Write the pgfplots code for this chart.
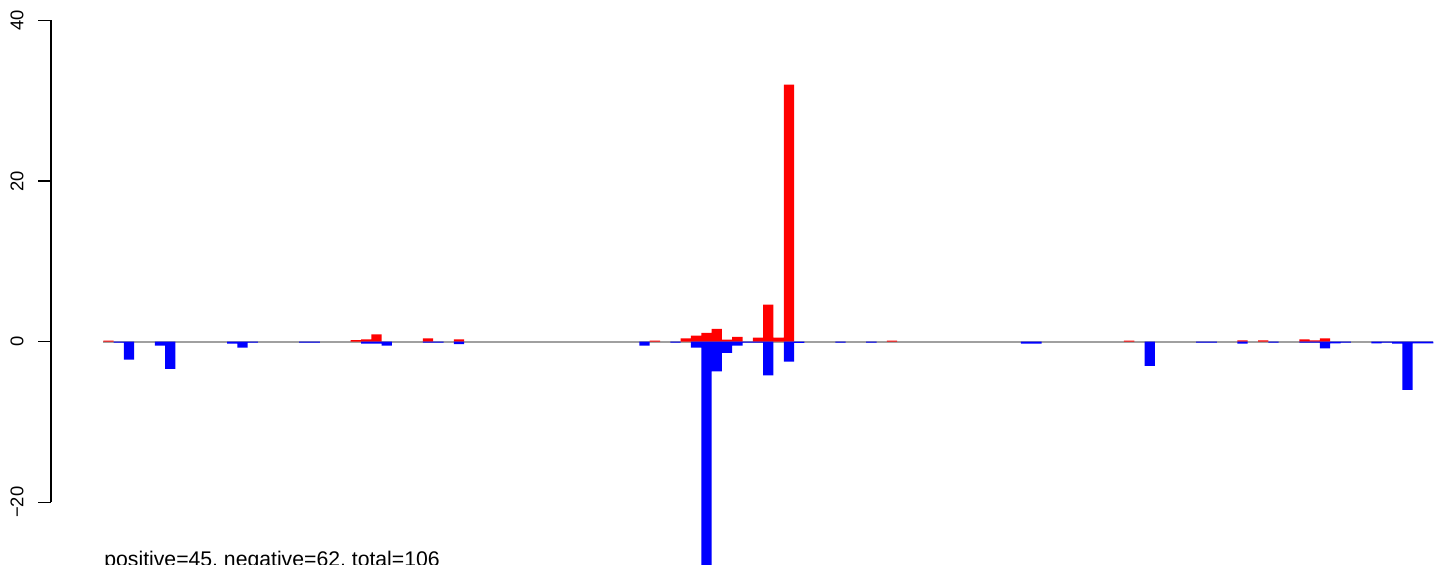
\documentclass[border=0pt]{standalone}
\usepackage{pgfplots}
\pgfplotsset{compat=1.18}
\usepackage{fontspec}
\setmainfont{Liberation Sans}
\definecolor{rred}{HTML}{FF0000}
\definecolor{rblue}{HTML}{0000FF}
\definecolor{rgray}{HTML}{A0A0A0}
\begin{document}
\begin{tikzpicture}
\useasboundingbox (0,0) rectangle (722pt,282.5pt);
\begin{axis}[
  at={(25.5pt,0pt)}, anchor=south west,
  scale only axis, width=696.5pt, height=282.5pt,
  xmin=-5.572, xmax=129.54, ymin=-27.81, ymax=42.55,
  enlargelimits=false, clip=false,
  axis line style={draw=none},
  hide x axis,
  ytick={-20,0,20,40},
  yticklabels={−20,0,20,40},
  tick align=outside, major tick length=6.5pt,
  ytick pos=left,
  y tick style={black, line width=0.6pt},
  yticklabel style={xshift=-7.35pt, rotate=90, anchor=base, inner sep=0pt, font=\fontsize{9.2pt}{11pt}\selectfont},
  /pgf/number format/assume math mode=true,
]
\addplot[rgray, line width=1pt, no marks] coordinates {(-0.5,0) (128.5,0)};
\addplot[ybar, bar width=1, bar shift=0pt, fill=rred, draw=none] coordinates {
(0,0.12) (24,0.2) (25,0.3) (26,0.9) (31,0.4) (34,0.3) (53,0.12)
(56,0.4) (57,0.75) (58,1.1) (59,1.6) (60,0.25) (61,0.6) (63,0.5)
(64,4.6) (65,0.5) (66,32.0) (76,0.12) (99,0.12) (110,0.15) (112,0.15)
(116,0.3) (117,0.15) (118,0.4)
};
\addplot[ybar, bar width=1, bar shift=0pt, fill=rblue, draw=none] coordinates {
(1,-0.12) (2,-2.25) (5,-0.5) (6,-3.4) (12,-0.25) (13,-0.75) (14,-0.12)
(19,-0.12) (20,-0.12) (25,-0.25) (26,-0.25) (27,-0.5) (31,-0.12) (32,-0.12)
(34,-0.3) (52,-0.5) (55,-0.12) (57,-0.75) (58,-30) (59,-3.7) (60,-1.4)
(61,-0.5) (62,-0.12) (63,-0.12) (64,-4.2) (66,-2.5) (67,-0.15) (71,-0.12)
(74,-0.12) (89,-0.25) (90,-0.25) (101,-3.0) (106,-0.12) (107,-0.12)
(110,-0.25) (113,-0.12) (116,-0.12) (117,-0.12) (118,-0.85) (119,-0.2)
(120,-0.12) (123,-0.2) (124,-0.12) (125,-0.25) (126,-6.0) (127,-0.2) (128,-0.2)
};
\draw[black, line width=0.6pt] (axis cs:-5.572,-20) -- (axis cs:-5.572,40);
\end{axis}
\node[anchor=base west, font=\fontsize{10.6pt}{12pt}\selectfont, inner sep=0pt] at (52pt,-1pt) {positive=45, negative=62, total=106};
\end{tikzpicture}
\end{document}
